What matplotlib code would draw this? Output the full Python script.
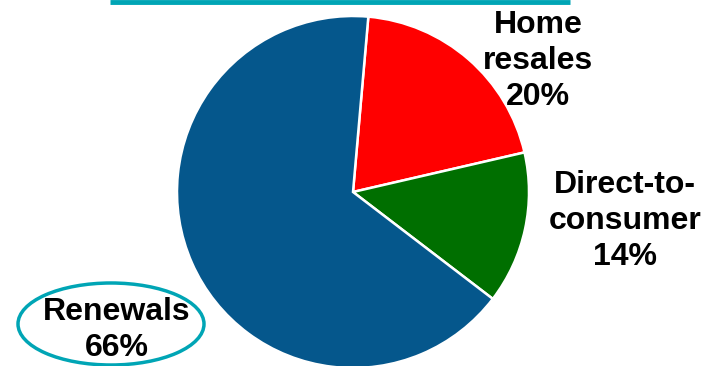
import matplotlib.pyplot as plt
from matplotlib.patches import Ellipse

# shares of sales, in percent
segments = ["Home\nresales", "Direct-to-\nconsumer", "Renewals"]
shares = [20, 14, 66]
colors = ["#ff0000", "#006f00", "#05578c"]
teal = "#00a5b5"

fig = plt.figure(figsize=(7.10, 3.66), dpi=100)
ax = fig.add_axes([0, 0, 1, 1])

ax.pie(shares, colors=colors, startangle=85, counterclock=False,
       center=(353, 174), radius=176,
       wedgeprops=dict(edgecolor="white", linewidth=1.8))
ax.set_xlim(0, 710)
ax.set_ylim(0, 366)
ax.set_aspect("equal")
ax.axis("off")

font = dict(family="Liberation Sans", fontweight="bold", fontsize=23,
            ha="center", va="center", linespacing=1.25)
pos = [(538, 305), (625, 145), (117, 36)]
for name, val, (x, y) in zip(segments, shares, pos):
    ax.text(x, y, f"{name}\n{val}%", **font)

# teal bar at top and ellipse around the renewals label
ax.plot([110, 570], [364.5, 364.5], color=teal, linewidth=3.5, solid_capstyle="butt")
ax.add_patch(Ellipse((111, 42), 186, 82, fill=False, edgecolor=teal, linewidth=2.5))

fig.savefig("out.png", dpi=100)
